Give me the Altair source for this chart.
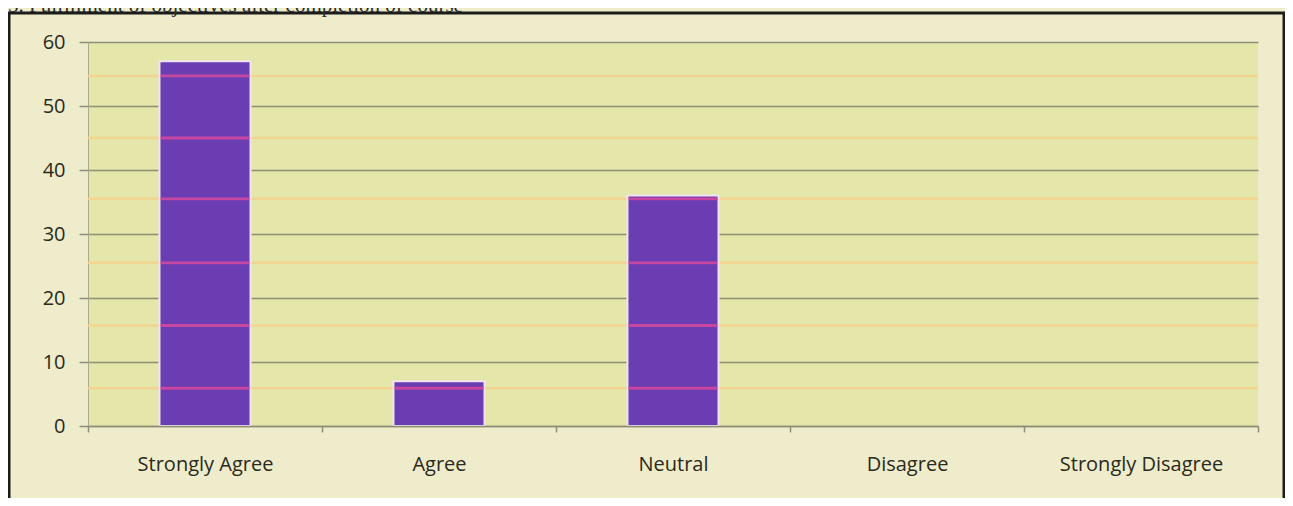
import altair as alt
import pandas as pd

# ---- data ----
categories = ["Strongly Agree", "Agree", "Neutral", "Disagree", "Strongly Disagree"]
values = [57, 7, 36, 0, 0]
y_ticks = [0, 10, 20, 30, 40, 50, 60]
stripe_levels = [5.9, 15.7, 25.5, 35.5, 45.0, 54.7]   # scan stripes seen across the chart
title_text = "5. Fulfillment of objectives after completion of course"

W, H = 1170, 384
BAR_BAND = 0.389

bars_df = pd.DataFrame({"category": categories, "value": values})
stripes_df = pd.DataFrame({"level": stripe_levels})
bar_stripes_df = pd.DataFrame(
    [{"category": c, "lo": s - 0.22, "hi": s + 0.22}
     for c, v in zip(categories, values) for s in stripe_levels if s < v]
)
one = pd.DataFrame({"t": [title_text]})

x_scale = alt.Scale(domain=categories, paddingInner=0, paddingOuter=0)
y_scale = alt.Scale(domain=[0, 60], nice=False)

FONT = "Open Sans"
GRID = "#8e8e78"

x_enc = alt.X(
    "category:N", scale=x_scale, sort=categories,
    axis=alt.Axis(
        title=None, labelAngle=0, tickBand="extent", grid=False,
        domainColor=GRID, domainWidth=1.5, tickColor=GRID, tickWidth=1.5, tickSize=6,
        labelFont=FONT, labelFontSize=20, labelColor="#2a2920", labelPadding=22,
        zindex=1,
    ),
)
y_axis = alt.Axis(
    title=None, values=y_ticks, grid=True, gridColor=GRID, gridWidth=1.5,
    domainColor="#aaa98e", domainWidth=1, tickColor=GRID, tickWidth=1.5, tickSize=9,
    labelFont=FONT, labelFontSize=20, labelColor="#2a2920", labelPadding=14,
)

stripes_bg = alt.Chart(stripes_df).mark_rule(color="#f4cf8c", strokeWidth=2.5, opacity=0.85).encode(
    y=alt.Y("level:Q", scale=y_scale, axis=y_axis)
)

bars = alt.Chart(bars_df).transform_filter(alt.datum.value > 0).mark_bar(
    color="#6a3eb2", stroke="#efe4f0", strokeWidth=2, width={"band": BAR_BAND}
).encode(
    x=x_enc,
    y=alt.Y("value:Q", scale=y_scale),
)

bar_stripes = alt.Chart(bar_stripes_df).mark_bar(
    color="#d2479f", opacity=0.9, width={"band": BAR_BAND - 0.01}
).encode(
    x=alt.X("category:N", scale=x_scale, sort=categories),
    y=alt.Y("lo:Q", scale=y_scale),
    y2="hi:Q",
)

frame = alt.Chart(one).mark_rect(fillOpacity=0, stroke="#1c1c1c", strokeWidth=3).encode(
    x=alt.value(-79), x2=alt.value(W + 26), y=alt.value(-29), y2=alt.value(H + 80)
)

title = alt.Chart(one).mark_text(
    align="left", baseline="alphabetic", font="Liberation Serif", fontSize=21, color="#2a2a2a"
).encode(text="t:N", x=alt.value(-80), y=alt.value(-30))

chart = alt.layer(stripes_bg, bars, bar_stripes, frame, title).properties(
    width=W, height=H,
    autosize=alt.AutoSizeParams(type="none"),
    padding={"left": 80, "top": 34, "right": 27, "bottom": 72},
    background="#eeecca",
).configure_view(fill="#e4e7a9", stroke=None)

chart.save("out.html", embed_options={"renderer": "svg", "actions": False})
